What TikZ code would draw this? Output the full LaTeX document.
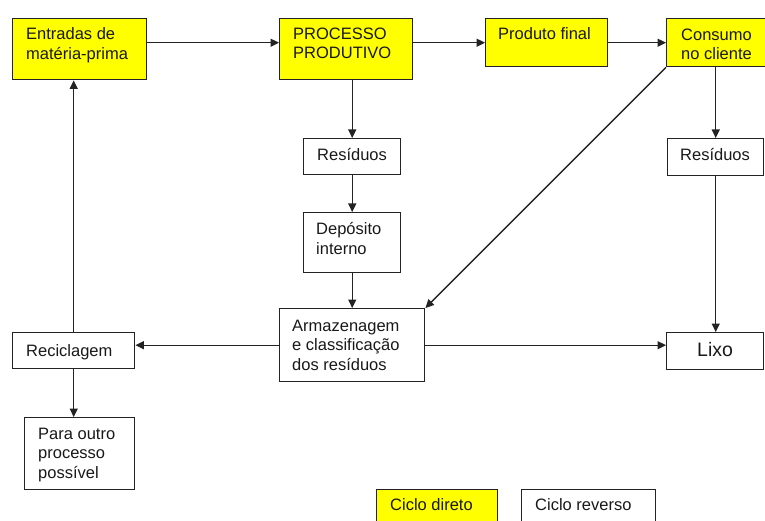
\documentclass[tikz,border=0pt]{standalone}
\usepackage{fontspec}
\setmainfont{Liberation Sans}
\usetikzlibrary{arrows.meta,calc}
\definecolor{boxyellow}{RGB}{255,255,0}
\definecolor{edge}{RGB}{35,35,35}
\tikzset{
  boxw/.style={draw=edge, line width=1.4pt, fill=white, rectangle, inner sep=0pt, anchor=north west},
  boxy/.style={boxw, fill=boxyellow},
  lbl/.style={anchor=north west, inner sep=0pt, align=left, text=black!90, font=\fontsize{16.5}{19.5}\selectfont},
  arr/.style={draw=edge, line width=1.3pt, -{Triangle[length=8.5pt,width=8pt]}}
}
\newcommand{\bx}[6]{\node[#1, minimum width={#4-#2}, minimum height={#5-#3}] (#6) at (#2,#3) {};}
\begin{document}
\begin{tikzpicture}[x=1pt,y=-1pt]
\useasboundingbox (0,0) rectangle (765,521);
\clip (0,0) rectangle (765,521);
% boxes
\bx{boxy}{12}{18}{146}{79}{ent}
\bx{boxy}{279}{18}{412}{79}{proc}
\bx{boxy}{485}{18}{607}{66}{prod}
\bx{boxy}{666}{18}{790}{66}{cons}
\bx{boxw}{303}{138}{400}{174}{resA}
\bx{boxw}{667}{138}{763}{175}{resB}
\bx{boxw}{303}{212}{400}{272}{dep}
\bx{boxw}{279}{308}{424}{381}{arm}
\bx{boxw}{12}{332}{134}{368}{rec}
\bx{boxw}{24}{417}{134}{489}{para}
\bx{boxw}{666}{332}{763}{369}{lixo}
\bx{boxy}{376}{489}{497}{540}{cd}
\bx{boxw}{521}{489}{655}{540}{cr}
% texts
\node[lbl] (entT) at (26,27.5) {Entradas de\\matéria-prima};
\node[lbl] (procT) at (293,27.5) {PROCESSO\\PRODUTIVO};
\node[lbl] (prodT) at (498,27.5) {Produto final};
\node[lbl] (consT) at (681,28.5) {Consumo\\no cliente};
\node[lbl] (resAT) at (317,148.5) {Resíduos};
\node[lbl] (resBT) at (680,148.5) {Resíduos};
\node[lbl] (depT) at (316,222.5) {Depósito\\interno};
\node[lbl] (armT) at (292,319.5) {Armazenagem\\e classificação\\dos resíduos};
\node[lbl] (recT) at (26,344.5) {Reciclagem};
\node[lbl] (paraT) at (38,427.5) {Para outro\\processo\\possível};
\node[lbl, font=\fontsize{19.5}{22}\selectfont] (lixoT) at (697,342.5) {Lixo};
\node[lbl] (cdT) at (390,498.5) {Ciclo direto};
\node[lbl] (crT) at (535,498.5) {Ciclo reverso};
% connectors
\draw[arr] (ent.east |- prod.west) -- (proc.west |- prod.west);
\draw[arr] (proc.east |- prod.west) -- (prod.west);
\draw[arr] (prod.east) -- (cons.west |- prod.east);
\draw[arr] (resA.north |- proc.south) -- (resA.north);
\draw[arr] (resA.south) -- (dep.north);
\draw[arr] (dep.south) -- (dep.south |- arm.north);
\draw[arr] (resB.north |- cons.south) -- (resB.north);
\draw[arr] (resB.south) -- (resB.south |- lixo.north);
\draw[arr] (cons.south west) -- (arm.north east);
\draw[arr] (arm.west) -- (rec.east |- arm.west);
\draw[arr] (arm.east) -- (lixo.west |- arm.east);
\draw[arr] (rec.north) -- (rec.north |- ent.south);
\draw[arr] (rec.south) -- (rec.south |- para.north);
\end{tikzpicture}
\end{document}
